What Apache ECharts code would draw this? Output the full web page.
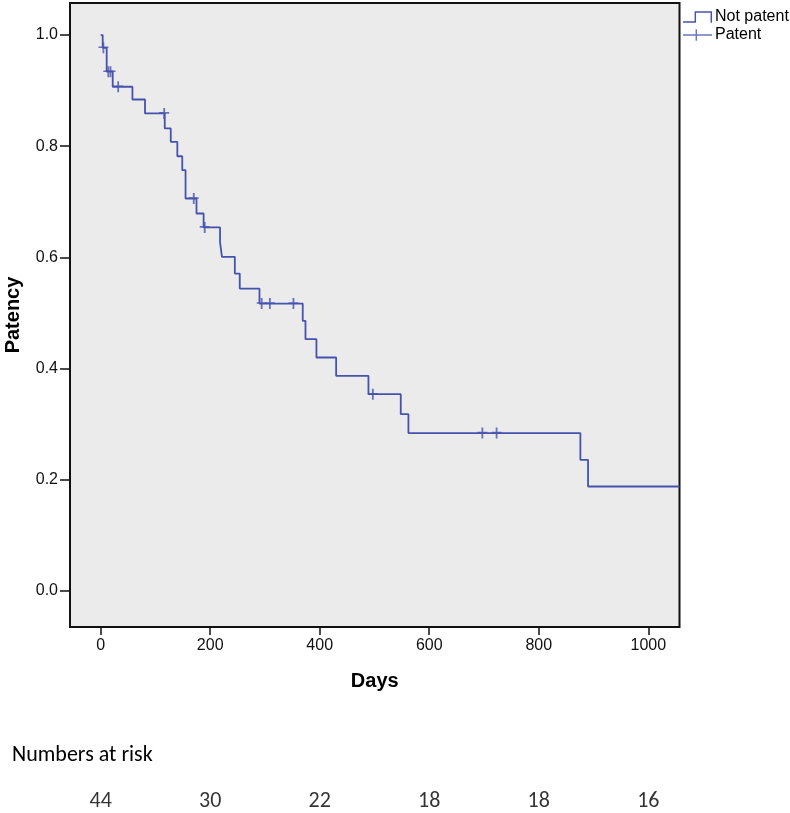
<!DOCTYPE html>
<html>
<head>
<meta charset="utf-8">
<script src="https://cdn.jsdelivr.net/npm/echarts@6/dist/echarts.min.js"></script>
<style>
html,body{margin:0;padding:0;background:#fff;}
#chart{width:790px;height:813px;}
</style>
</head>
<body>
<div id="chart"></div>
<script>
// Kaplan-Meier step points: event days and survival after each step
const stepDays = [0, 3.7, 11, 22, 58, 81, 117, 128, 140, 149, 155, 175, 188, 218, 221.5, 245, 254, 290, 369, 374, 394, 430, 489, 548, 562, 876, 890, 1057];
const stepSurv = [1.0, 0.977, 0.934, 0.907, 0.884, 0.859, 0.832, 0.808, 0.782, 0.757, 0.706, 0.679, 0.654, 0.627, 0.601, 0.571, 0.544, 0.517, 0.486, 0.453, 0.420, 0.387, 0.354, 0.318, 0.284, 0.236, 0.188, 0.188];
// Censored observations
const censorDays = [5, 14, 18, 32, 116, 170, 190, 294, 309, 352, 497, 697, 723];
const censorSurv = [0.977, 0.934, 0.934, 0.907, 0.859, 0.706, 0.654, 0.517, 0.517, 0.517, 0.354, 0.284, 0.284];
// Axis ticks
const xTicks = [0, 200, 400, 600, 800, 1000];
const yTicks = [0.0, 0.2, 0.4, 0.6, 0.8, 1.0];
// Numbers at risk
const riskDays = [0, 200, 400, 600, 800, 1000];
const riskCounts = [44, 30, 22, 18, 18, 16];

const lineColor = '#4653ad';
const axisFont = 'Liberation Sans, Arial, sans-serif';
const noteFont = 'Carlito, Lato, sans-serif';

const chart = echarts.init(document.getElementById('chart'), null, {renderer: 'canvas'});

const stepIcon = 'path://M0,10.5 L12,10.5 L12,0 L30,0 L30,12 L28.5,12 L28.5,1.5 L13.5,1.5 L13.5,12 L0,12 Z';
const crossIcon = 'path://M0,5.25 L13,5.25 L13,0 L14.5,0 L14.5,5.25 L30,5.25 L30,6.75 L14.5,6.75 L14.5,12 L13,12 L13,6.75 L0,6.75 Z';
const censorSymbol = 'path://M4.1,0 L5.9,0 L5.9,4.2 L10,4.2 L10,5.8 L5.9,5.8 L5.9,11 L4.1,11 L4.1,5.8 L0,5.8 L0,4.2 L4.1,4.2 Z';

const option = {
  animation: false,
  backgroundColor: '#ffffff',
  title: [{
    text: 'Numbers at risk',
    left: 7,
    top: 739,
    textStyle: {fontFamily: noteFont, fontSize: 22, fontWeight: 'normal', color: '#000'}
  }],
  legend: {
    orient: 'vertical',
    left: 683,
    top: 9,
    padding: 0,
    itemGap: 2,
    itemWidth: 29,
    itemHeight: 12,
    itemStyle: {borderWidth: 0},
    textStyle: {fontFamily: axisFont, fontSize: 16, color: '#000', padding: [0, 0, 0, -2]},
    data: [
      {name: 'Not patent', icon: stepIcon},
      {name: 'Patent', icon: crossIcon}
    ]
  },
  grid: [
    {left: 70, top: 3, width: 609.5, height: 624, show: true, backgroundColor: '#ebebeb', borderColor: '#111', borderWidth: 2, containLabel: false, outerBoundsMode: 'none'},
    {left: 70, top: 789, width: 609.5, height: 24, show: false, outerBoundsMode: 'none'}
  ],
  xAxis: [
    {
      type: 'value', gridIndex: 0, min: -56, max: 1057, position: 'bottom',
      name: 'Days', nameLocation: 'middle', nameGap: 44,
      nameTextStyle: {fontFamily: axisFont, fontSize: 20, fontWeight: 'bold', color: '#000'},
      axisLine: {show: false, onZero: false},
      splitLine: {show: false},
      axisTick: {show: true, length: 8, customValues: xTicks, lineStyle: {color: '#111', width: 1.5}},
      axisLabel: {customValues: xTicks, margin: 11, fontFamily: axisFont, fontSize: 16, color: '#111',
        formatter: v => String(v)}
    },
    {type: 'value', gridIndex: 1, min: -56, max: 1057, show: false}
  ],
  yAxis: [
    {
      type: 'value', gridIndex: 0, min: -0.0647, max: 1.0576, position: 'left',
      name: 'Patency', nameLocation: 'middle', nameGap: 47, nameRotate: 90,
      nameTextStyle: {fontFamily: axisFont, fontSize: 20, fontWeight: 'bold', color: '#000'},
      axisLine: {show: false, onZero: false},
      splitLine: {show: false},
      axisTick: {show: true, length: 10, customValues: yTicks, lineStyle: {color: '#111', width: 1.5}},
      axisLabel: {customValues: yTicks, margin: 12, fontFamily: axisFont, fontSize: 16, color: '#111',
        formatter: v => Number(v).toFixed(1)}
    },
    {type: 'value', gridIndex: 1, min: 0, max: 1, show: false}
  ],
  series: [
    {
      name: 'Not patent',
      type: 'line',
      xAxisIndex: 0, yAxisIndex: 0,
      step: 'end',
      showSymbol: false,
      symbol: 'none',
      color: lineColor,
      lineStyle: {color: lineColor, width: 1.8},
      data: stepDays.map((d, i) => [d, stepSurv[i]]),
      z: 3
    },
    {
      name: 'Patent',
      type: 'scatter',
      xAxisIndex: 0, yAxisIndex: 0,
      symbol: censorSymbol,
      symbolSize: [10, 11],
      color: lineColor,
      itemStyle: {color: lineColor},
      data: censorDays.map((d, i) => [d, censorSurv[i]]),
      z: 4
    },
    {
      name: 'risk',
      type: 'scatter',
      xAxisIndex: 1, yAxisIndex: 1,
      symbolSize: 0,
      silent: true,
      label: {show: true, position: 'inside', formatter: p => String(p.value[2]),
        fontFamily: noteFont, fontSize: 22, color: '#000', textBorderWidth: 0},
      data: riskDays.map((d, i) => [d, 0.5, riskCounts[i]])
    }
  ]
};
chart.setOption(option);
</script>
</body>
</html>
